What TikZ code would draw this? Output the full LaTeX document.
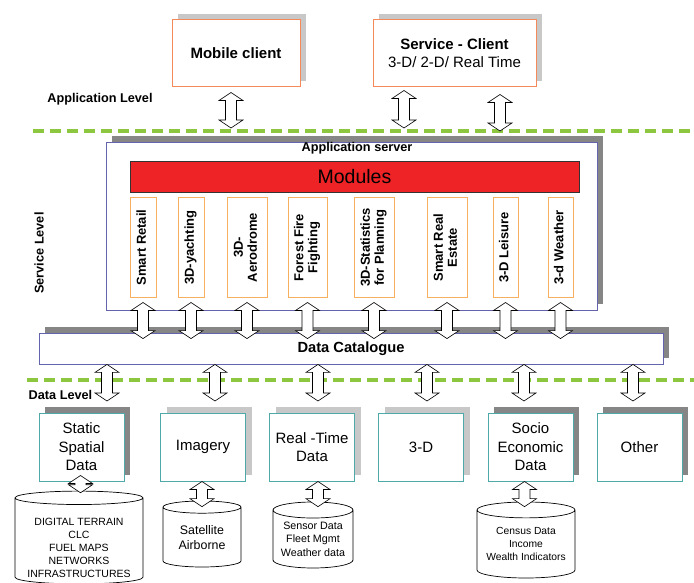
\documentclass[tikz,border=0pt]{standalone}
\usepackage{fontspec}
\setmainfont{Liberation Sans}
\usepackage{tikz}
\usetikzlibrary{shadows}
\usetikzlibrary{positioning}
\usetikzlibrary{shapes,calc}

\definecolor{lvlgreen}{HTML}{8DC63F}
\definecolor{clientorange}{HTML}{F4895A}
\definecolor{modorange}{HTML}{F7B060}
\definecolor{datateal}{HTML}{4FA9A9}
\definecolor{srvblue}{HTML}{6464AC}
\definecolor{modred}{HTML}{EE2326}
\definecolor{shadowgray}{HTML}{868686}
\definecolor{hatchgray}{HTML}{C8C8C8}

% double block arrow, x taken from the upper end
\newcommand{\updown}[2]{%
  \draw[blockarrow] let \p1=(#1), \p2=(#2) in
    (\x1,\y1) -- (\x1+12pt,\y1-8pt) -- (\x1+5.5pt,\y1-8pt) -- (\x1+5.5pt,\y2+8pt)
    -- (\x1+12pt,\y2+8pt) -- (\x1,\y2) -- (\x1-12pt,\y2+8pt) -- (\x1-5.5pt,\y2+8pt)
    -- (\x1-5.5pt,\y1-8pt) -- (\x1-12pt,\y1-8pt) -- cycle;}
% vertical label for the modules
\newcommand{\vlab}[1]{\rotatebox{90}{\begin{tabular}{@{}c@{}}#1\end{tabular}}}

\begin{document}
\begin{tikzpicture}[x=1pt, y=-1pt,
  shadowed/.style={drop shadow={shadow xshift=6pt, shadow yshift=6pt, fill=#1, opacity=1}},
  client/.style={draw=clientorange, fill=white, line width=1pt, minimum height=67pt, align=center,
    font=\fontsize{15}{18}\selectfont, shadowed=hatchgray},
  server/.style={draw=srvblue, fill=white, line width=0.8pt, shadowed=shadowgray},
  module/.style={draw=modorange, fill=white, line width=1pt, minimum height=99pt, inner sep=0pt,
    font=\bfseries\fontsize{13}{14}\selectfont},
  datasrc/.style={draw=datateal, fill=white, line width=1pt, minimum width=85pt, minimum height=68pt,
    align=center, font=\fontsize{15}{18.5}\selectfont},
  store/.style={cylinder, shape border rotate=90, draw=black, fill=white, line width=0.7pt,
    anchor=shape center, align=center, inner sep=0pt},
  blockarrow/.style={draw=black, fill=white, line width=0.6pt},
  level/.style={font=\bfseries\fontsize{12.7}{14}\selectfont},
  levelline/.style={draw=lvlgreen, line width=4pt, dash pattern=on 11pt off 6pt}]

  \useasboundingbox (0,0) rectangle (694,583);

  %level lines
  \draw[levelline] (33,131) -- (694,131);
  \draw[levelline] (27,380) -- (694,380);

  %clients
  \node[client, minimum width=128pt] (mob) at (236,53.5) {\bfseries Mobile client};
  \node[client, minimum width=163pt] (srv) at (454.5,53.5) {{\bfseries Service - Client}\\3-D/ 2-D/ Real Time};
  \node[level] (applvl) at (100,99) {Application Level};

  %application server
  \node[server, minimum width=491pt, minimum height=168pt] (appsrv) at (351.5,226) {};
  \node[level] (appsrvlbl) at (357,148) {Application server};
  \node[draw=black!80, fill=modred, line width=0.8pt, minimum width=449pt, minimum height=31pt,
    font=\fontsize{19.5}{22}\selectfont] (modules) at (354.5,176.5) {Modules};
  \node[level, rotate=90] (svclvl) at (39,253) {Service Level};

  \foreach \x/\w/\txt [count=\i] in {143/26/Smart Retail, 191/26/3D-yachting, 247/40/3D-\\Aerodrome,
      307.5/39/Forest Fire\\Fighting, 374/40/3D-Statistics\\for Planning, 447/40/Smart Real\\Estate,
      505.5/25/3-D Leisure, 560.5/25/3-d Weather}{
    \node[module, minimum width=\w pt] (m\i) at (\x,247.5) {\vlab{\txt}};
  }

  %data catalogue
  \node[server, minimum width=624pt, minimum height=31pt, font=\bfseries\fontsize{14.7}{17}\selectfont]
    (cat) at (351,348.5) {Data Catalogue};
  \foreach \i in {1,...,8}{
    \updown{[yshift=-5pt]m\i.south}{[yshift=-6pt]m\i.south |- cat.north}
  }

  \coordinate (a1) at (231,128);
  \coordinate (a2) at (404,128);
  \coordinate (a3) at (500,131);
  \updown{[yshift=-5pt]mob.south -| a1}{a1}
  \updown{[yshift=-3pt]srv.south -| a2}{a2}
  \updown{[yshift=-7pt]srv.south -| a3}{a3}

  %data level
  \node[level] (datalvl) at (60.5,395) {Data Level};
  \foreach \x/\txt/\shade [count=\i] in {81.5/Static\\Spatial\\Data/shadowgray, 203/Imagery/hatchgray,
      312/Real -Time\\Data/hatchgray, 421/3-D/hatchgray, 530.5/Socio\\Economic\\Data/shadowgray,
      639.5/Other/shadowgray}{
    \node[datasrc, shadowed=\shade] (d\i) at (\x,447) {\txt};
  }
  \foreach \x [count=\i] in {107,215,318,427,524,633}{
    \coordinate (c\i) at (\x,401);
    \updown{cat.south -| c\i}{c\i}
  }

  %stores
  \node[store, minimum width=128pt, minimum height=89pt, aspect=0.13, font=\fontsize{10.5}{12.8}\selectfont]
    (cy1) at (79,537.5) {\rule{0pt}{21pt}DIGITAL TERRAIN\\CLC\\FUEL MAPS\\NETWORKS\\INFRASTRUCTURES};
  \node[store, minimum width=78pt, minimum height=66pt, aspect=0.26, font=\fontsize{12.4}{15}\selectfont]
    (cy2) at (202,534) {Satellite\\Airborne};
  \node[store, minimum width=80pt, minimum height=66pt, aspect=0.25, font=\fontsize{10.7}{13.5}\selectfont]
    (cy3) at (313,535) {Sensor Data\\Fleet Mgmt\\Weather data};
  \node[store, minimum width=98pt, minimum height=76pt, aspect=0.2, font=\fontsize{10.3}{13}\selectfont]
    (cy4) at (526,540) {Census Data\\Income\\Wealth Indicators};

  \updown{[yshift=6pt,xshift=-1pt]d1.south}{[yshift=-2pt]cy1.north}
  \updown{[xshift=-1pt]d2.south}{[yshift=-6pt]cy2.north}
  \updown{[xshift=6pt]d3.south}{[yshift=-5pt]cy3.north}
  \updown{[xshift=-6pt]d5.south}{[yshift=-5pt]cy4.north}
\end{tikzpicture}
\end{document}
